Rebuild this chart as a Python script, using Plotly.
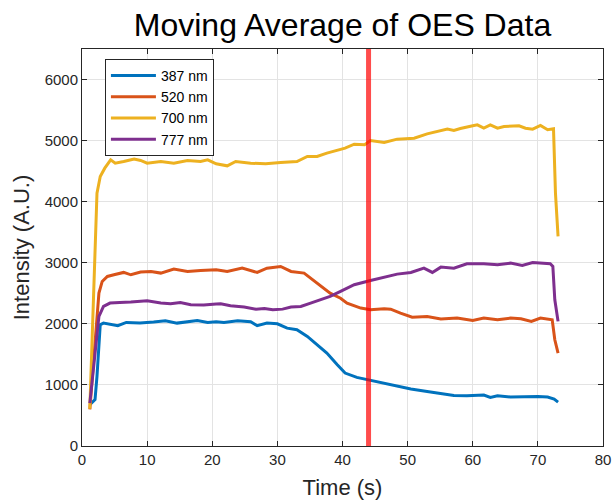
import plotly.graph_objects as go

# ---- data ----
t_387 = [1.2, 2.0, 2.3, 2.8, 3.3, 4.3, 5.5, 6.8, 8.9, 11.0, 12.8, 14.6, 17.7, 19.3, 20.6,
         21.8, 23.9, 25.9, 26.9, 28.4, 30.0, 31.5, 33.0, 34.6, 36.1, 37.6, 39.2, 40.4,
         42.2, 44.3, 46.4, 48.4, 50.5, 53.0, 55.1, 57.1, 59.1, 60.0, 61.7, 62.7, 63.8,
         65.8, 67.9, 70.0, 71.5, 72.5, 73.1]
v_387 = [676, 760, 1139, 1985, 2012, 1996, 1969, 2023, 2012, 2029, 2050, 2012, 2056, 2023, 2034,
         2023, 2050, 2034, 1969, 2012, 2001, 1930, 1903, 1794, 1657, 1521, 1330, 1194,
         1123, 1074, 1030, 986, 932, 894, 855, 828, 823, 823, 834, 795, 823,
         801, 812, 812, 801, 768, 719]

t_520 = [1.2, 2.0, 2.6, 3.1, 3.9, 4.9, 6.4, 7.5, 9.0, 10.6, 12.1, 14.1, 16.2, 18.2, 20.6,
         22.3, 24.6, 26.9, 28.4, 30.5, 32.1, 34.1, 36.1, 38.1, 39.7, 40.7, 42.8, 44.3,
         46.4, 47.4, 48.9, 50.7, 53.0, 55.1, 57.6, 60.0, 61.7, 63.8, 65.8, 67.4, 69.0,
         70.4, 72.2, 72.6, 73.1]
v_520 = [600, 1685, 2503, 2694, 2776, 2803, 2842, 2803, 2847, 2858, 2831, 2896, 2858, 2874, 2885,
         2858, 2912, 2842, 2912, 2940, 2858, 2831, 2667, 2503, 2420, 2340, 2258, 2230,
         2247, 2241, 2176, 2110, 2121, 2078, 2094, 2056, 2094, 2067, 2094, 2083, 2040,
         2094, 2067, 1740, 1521]

t_700 = [1.2, 1.8, 2.3, 2.8, 3.5, 4.4, 5.1, 6.4, 8.0, 9.0, 10.0, 12.1, 14.1, 16.2, 18.2, 19.3,
         20.6, 22.3, 23.6, 25.9, 28.2, 30.5, 33.0, 34.6, 36.1, 37.6, 39.7, 40.4, 41.8,
         43.4, 44.3, 46.4, 48.4, 51.0, 53.0, 56.1, 57.1, 58.1, 60.0, 60.7, 61.7, 62.7,
         63.8, 64.8, 67.1, 68.1, 69.2, 70.4, 71.5, 72.4, 72.7, 73.1]
v_700 = [610, 2394, 4140, 4413, 4549, 4686, 4631, 4658, 4697, 4675, 4631, 4658, 4631, 4675, 4658, 4686,
         4620, 4587, 4658, 4631, 4620, 4642, 4658, 4740, 4740, 4795, 4860, 4877, 4942,
         4931, 5002, 4969, 5024, 5040, 5111, 5188, 5166, 5198, 5242, 5258, 5204, 5258,
         5204, 5231, 5242, 5204, 5188, 5248, 5177, 5193, 4140, 3431]

t_777 = [1.2, 1.8, 2.6, 3.3, 4.3, 5.8, 7.5, 10.0, 12.1, 13.6, 15.1, 16.7, 18.7, 20.6,
         21.3, 22.8, 24.9, 26.7, 28.0, 29.3, 30.8, 32.1, 33.6, 35.1, 36.6, 38.1, 39.7,
         41.8, 44.3, 46.4, 48.4, 50.5, 52.5, 53.8, 55.1, 57.1, 59.1, 61.7, 63.8, 65.8,
         67.6, 69.2, 70.6, 71.9, 72.3, 72.6, 73.1]
v_777 = [703, 1357, 2121, 2285, 2340, 2350, 2356, 2378, 2340, 2329, 2350, 2312, 2307, 2323,
         2329, 2296, 2274, 2241, 2252, 2230, 2241, 2274, 2285, 2340, 2394, 2449, 2530,
         2640, 2710, 2760, 2814, 2842, 2912, 2842, 2929, 2912, 2983, 2983, 2967, 2994,
         2956, 3005, 2994, 2983, 2940, 2394, 2040]

series_names = ["387 nm", "520 nm", "700 nm", "777 nm"]
series_colors = ["#0072BD", "#D95319", "#EDB120", "#7E2F8E"]
marker_time = 44

x_ticks = [0, 10, 20, 30, 40, 50, 60, 70, 80]
y_ticks = [0, 1000, 2000, 3000, 4000, 5000, 6000]

FONT = "Liberation Sans, Arial, Helvetica, sans-serif"
AX = "#262626"

fig = go.Figure()
for name, color, tt, vv in zip(series_names, series_colors,
                                [t_387, t_520, t_700, t_777],
                                [v_387, v_520, v_700, v_777]):
    fig.add_trace(go.Scatter(x=tt, y=vv, mode="lines", name=name,
                             line=dict(color=color, width=3)))

fig.add_shape(type="line", xref="x", yref="paper", x0=marker_time, x1=marker_time,
              y0=0, y1=1, line=dict(color="rgba(255,0,0,0.7)", width=5), layer="above")

axis_common = dict(showline=True, linecolor=AX, linewidth=1, mirror="ticks",
                   ticks="inside", ticklen=5, tickcolor=AX, tickwidth=1,
                   showgrid=True, gridcolor="#E3E3E3", gridwidth=1, zeroline=False,
                   automargin=False,
                   tickfont=dict(family=FONT, size=15, color=AX))

L, R, T, B = 82, 12, 49, 56
fig.update_layout(
    width=615, height=502,
    margin=dict(l=L, r=R, t=T, b=B, autoexpand=False),
    paper_bgcolor="white", plot_bgcolor="white",
    title=dict(text="Moving Average of OES Data", x=(L + 615 - R) / 2 / 615, xanchor="center",
               y=1 - 25 / 502, yanchor="middle",
               font=dict(family=FONT, size=32, color="black")),
    xaxis=dict(range=[0, 80], tickvals=x_ticks,
               title=dict(text="Time (s)", font=dict(family=FONT, size=22, color=AX), standoff=12),
               **axis_common),
    yaxis=dict(range=[0, 6500], tickvals=y_ticks,
               title=dict(text="Intensity (A.U.)", font=dict(family=FONT, size=22, color=AX), standoff=8),
               **axis_common),
    legend=dict(x=0.044, y=0.975, xanchor="left", yanchor="top",
                bgcolor="white", bordercolor=AX, borderwidth=1,
                font=dict(family=FONT, size=14, color="black"),
                itemwidth=45, tracegroupgap=0),
    showlegend=True,
)

fig.write_html("out.html")
